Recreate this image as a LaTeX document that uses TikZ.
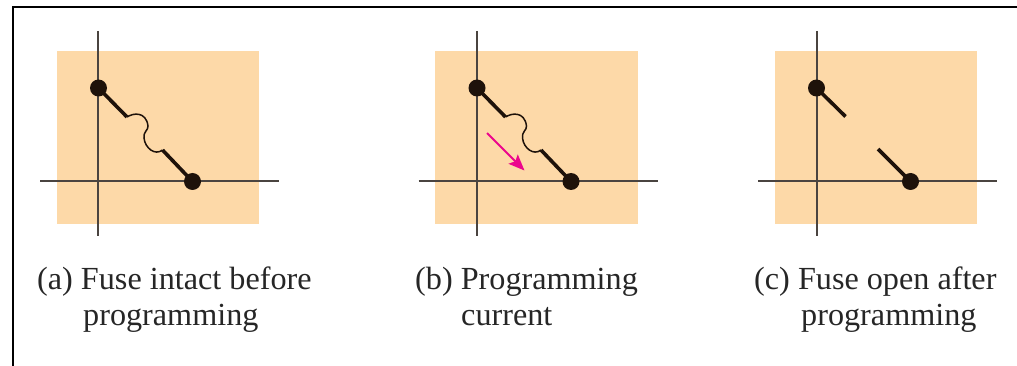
\documentclass[tikz,border=0pt]{standalone}
\usepackage{fontspec}
\setmainfont{Liberation Serif}
\usetikzlibrary{arrows.meta}
\definecolor{panelfill}{HTML}{FDD9A8}
\definecolor{ink}{HTML}{1E120A}
\definecolor{axisink}{HTML}{4A4440}
\definecolor{currentpink}{HTML}{EC068D}
\tikzset{
  panel/.style={fill=panelfill,draw=none},
  axisline/.style={draw=axisink,line width=2pt},
  lead/.style={draw=ink,line width=3.6pt},
  fuselink/.style={draw=ink,line width=1.5pt},
  terminal/.style={circle,fill=ink,draw=none,minimum size=17pt,inner sep=0pt},
  caption/.style={anchor=base west,inner sep=0pt,font=\fontsize{32.2}{34}\selectfont,text=black!85},
  frameline/.style={draw=black,line width=2pt},
  current/.style={draw=currentpink,line width=1.9pt,-{Stealth[length=16pt,width=13pt,inset=3pt]}}
}
% #1 name prefix, #2 x shift, #3 absolute x of the vertical axis
\newcommand{\fusepanel}[3]{%
  \begin{scope}[shift={(#2,0)}]
    \fill[panel] (56.5,51.5) rectangle (259,224);
  \end{scope}
  \coordinate (#1vt) at (#3,31);
  \coordinate (#1vb) at (#3,236);
  \begin{scope}[shift={(#2,0)}]
    \coordinate (#1hl) at (40,181);
    \coordinate (#1hr) at (279,181);
  \end{scope}
  \draw[axisline] (#1vt) -- (#1vb);
  \draw[axisline] (#1hl) -- (#1hr);
  \begin{scope}[shift={(#2,0)}]
    \node[terminal] (#1top) at (98.5,88) {};
    \node[terminal] (#1bot) at (192.5,181.5) {};
    \coordinate (#1la) at (127,117);
    \coordinate (#1lb) at (162.5,150);
  \end{scope}}
\newcommand{\fusewave}[1]{%
  \draw[lead] (#1top.center) -- (#1la);
  \draw[lead] (#1bot.center) -- (#1lb);
  \draw[fuselink] (#1la) .. controls ([shift={(6,-4)}]#1la) and ([shift={(19,-6)}]#1la) .. ([shift={(21,9)}]#1la)
     .. controls ([shift={(21.5,13)}]#1la) and ([shift={(16,15)}]#1la) .. ([shift={(17,21)}]#1la)
     .. controls ([shift={(18,31)}]#1la) and ([shift={(28,39)}]#1la) .. (#1lb);}
\begin{document}
\begin{tikzpicture}[x=1pt,y=-1pt]
  \useasboundingbox (0,0) rectangle (1017,366);
  \coordinate (fa) at (12.5,366);
  \coordinate (fb) at (12.5,6.8);
  \coordinate (fc) at (1017,6.8);
  \draw[frameline] (fa) -- (fb) -- (fc);
  \fusepanel{a}{0}{98}
  \fusepanel{b}{378.5}{477}
  \fusepanel{c}{718}{817}
  \fusewave{a}
  \fusewave{b}
  \coordinate (cla) at (845.5,116.5);
  \coordinate (clb) at (878,149);
  \draw[lead] (ctop.center) -- (cla);
  \draw[lead] (cbot.center) -- (clb);
  \coordinate (cs) at (487,133);
  \coordinate (ce) at (524.5,170.5);
  \draw[current] (cs) -- (ce);
  \node[caption] (capa1) at (37,289) {(a) Fuse intact before};
  \node[caption] (capa2) at (83,325) {programming};
  \node[caption] (capb1) at (415,289) {(b) Programming};
  \node[caption] (capb2) at (461,325) {current};
  \node[caption] (capc1) at (754,289) {(c) Fuse open after};
  \node[caption] (capc2) at (801,325) {programming};
\end{tikzpicture}
\end{document}
